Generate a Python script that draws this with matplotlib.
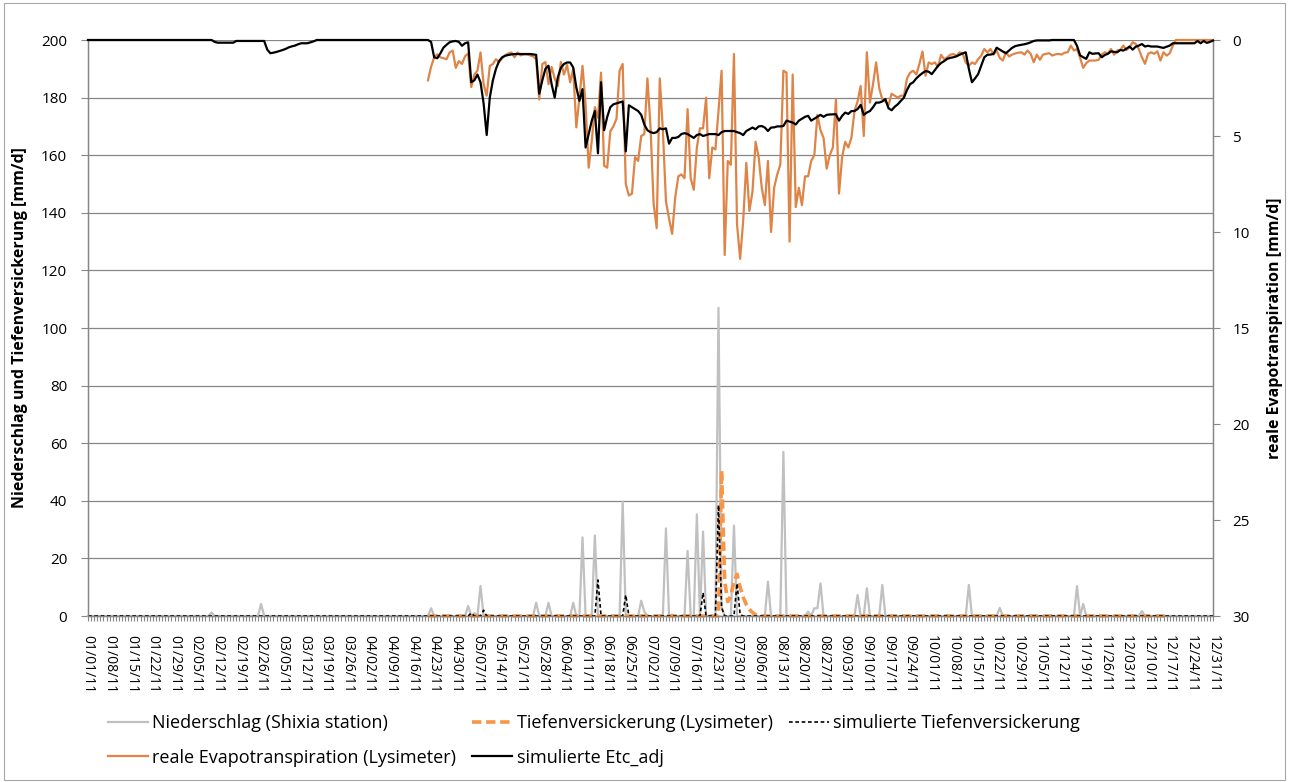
import matplotlib
matplotlib.use("Agg")
import matplotlib.pyplot as plt
import matplotlib.dates as mdates
from matplotlib.patches import Rectangle
import numpy as np
import pandas as pd

plt.rcParams['font.family'] = ['Open Sans', 'DejaVu Sans']

# ---- data ----
days = pd.date_range("2011-01-01", "2011-12-31", freq="D")

# precipitation Shixia station [mm/d], every other day dry
rain_dates = ["2011-02-10", "2011-02-26", "2011-04-22", "2011-05-04", "2011-05-06",
              "2011-05-08", "2011-05-26", "2011-05-30", "2011-06-07", "2011-06-10",
              "2011-06-14", "2011-06-23", "2011-06-29", "2011-06-30", "2011-07-07",
              "2011-07-09", "2011-07-14", "2011-07-17", "2011-07-19", "2011-07-24",
              "2011-07-25", "2011-07-29", "2011-08-09", "2011-08-14", "2011-08-22",
              "2011-08-24", "2011-08-25", "2011-08-26", "2011-09-07", "2011-09-10",
              "2011-09-15", "2011-10-13", "2011-10-23", "2011-11-17", "2011-11-19",
              "2011-12-08"]
rain_mm = [1.2, 4.2, 2.7, 3.5, 1.0,
           10.4, 4.6, 4.6, 4.6, 27.3,
           28.0, 39.7, 5.3, 1.5, 30.4,
           0.5, 22.6, 35.3, 29.3, 107.0,
           3.0, 31.4, 11.9, 57.0, 1.5,
           2.7, 2.7, 11.3, 7.3, 9.6,
           10.8, 10.8, 2.8, 10.4, 4.2,
           1.7]

# deep percolation measured by lysimeter [mm/d]
lys_perc_period = ("2011-04-21", "2011-12-17")
lys_perc_dates = ["2011-07-25", "2011-07-26", "2011-07-27", "2011-07-28", "2011-07-29",
                  "2011-07-30", "2011-07-31", "2011-08-01", "2011-08-02", "2011-08-03",
                  "2011-08-04", "2011-08-05"]
lys_perc_mm = [50.5, 12.0, 5.0, 7.0, 12.0, 14.5, 10.0, 6.5, 4.0, 2.3, 1.2, 0.5]

# simulated deep percolation [mm/d]
sim_perc_dates = ["2011-05-05", "2011-05-09", "2011-06-15", "2011-06-24", "2011-07-19",
                  "2011-07-24", "2011-07-25", "2011-07-30", "2011-07-31"]
sim_perc_mm = [1.0, 2.0, 12.5, 7.3, 8.1, 38.5, 3.0, 11.3, 0.5]

# real evapotranspiration from lysimeter [mm/d], daily from 2011-04-21
et_lys_start = "2011-04-21"
et_lys = [2.1, 1.4, 0.9, 0.75, 0.9, 0.95, 1.0, 0.65, 0.55, 1.45,
          1.1, 1.25, 0.85, 0.7, 2.45, 1.8, 1.6, 0.65, 2.3, 2.9,
          1.35, 1.25, 1.0, 1.15, 0.95, 0.8, 0.7, 0.65, 0.9, 0.65,
          0.8, 0.75, 0.75, 0.8, 0.85, 1.0, 3.1, 1.25, 1.15, 2.3,
          1.4, 2.0, 2.4, 1.15, 1.8, 1.3, 2.2, 1.5, 4.55, 3.0,
          1.35, 3.35, 6.65, 5.25, 3.5, 4.05, 1.7, 6.55, 6.65, 4.75,
          4.5, 4.1, 1.6, 1.25, 7.5, 8.1, 8.0, 6.1, 6.3, 5.0,
          4.9, 2.0, 4.5, 8.5, 9.8, 2.0, 4.7, 8.4, 9.3, 10.1,
          8.2, 7.1, 7.0, 7.2, 3.6, 7.2, 7.8, 5.6, 4.6, 4.6,
          3.0, 7.2, 5.6, 5.7, 3.7, 1.6, 11.2, 6.3, 6.5, 0.73,
          9.6, 11.4, 9.4, 6.4, 8.9, 7.9, 5.3, 6.1, 7.7, 8.6,
          6.3, 10.0, 7.7, 7.0, 6.5, 1.6, 1.7, 10.5, 1.8, 8.7,
          7.7, 8.6, 7.1, 7.1, 6.3, 6.0, 3.9, 4.7, 5.1, 6.7,
          6.0, 5.6, 3.1, 8.0, 6.1, 5.3, 5.6, 5.1, 3.7, 3.2,
          2.4, 5.0, 0.64, 3.26, 2.3, 1.17, 2.5, 3.1, 3.2, 3.4,
          2.8, 2.9, 3.0, 2.9, 2.9, 2.0, 1.7, 1.6, 1.8, 1.25,
          0.6, 1.86, 1.17, 1.25, 1.17, 1.4, 0.77, 1.0, 0.9, 0.77,
          0.73, 0.82, 0.64, 0.7, 1.17, 1.34, 1.17, 1.25, 1.0, 0.82,
          0.47, 0.64, 0.47, 0.76, 0.55, 0.93, 1.07, 0.64, 0.86, 0.76,
          0.7, 0.66, 0.64, 0.76, 0.55, 0.72, 1.16, 0.76, 1.03, 0.76,
          0.72, 0.69, 0.81, 0.75, 0.72, 0.76, 0.66, 0.64, 0.29, 0.55,
          0.47, 0.93, 1.45, 1.2, 1.07, 1.07, 1.07, 1.03, 0.76, 0.64,
          0.69, 0.47, 0.76, 0.55, 0.52, 0.29, 0.52, 0.38, 0.12, 0.2,
          0.47, 0.9, 1.24, 0.72, 0.64, 0.72, 0.59, 1.07, 0.64, 0.81,
          0.69, 0.29, 0.0, 0.0, 0.0, 0.0, 0.0, 0.0, 0.0, 0.0,
          0.0, 0.0, 0.0, 0.0, 0.0]

# simulated Etc_adj [mm/d]; zero on the days not listed
etc_winter_start = "2011-02-11"
etc_winter = [0.1, 0.14, 0.14, 0.14, 0.14, 0.14, 0.14, 0.05, 0.05, 0.05,
              0.05, 0.05, 0.05, 0.05, 0.05, 0.05, 0.05, 0.5, 0.69, 0.66,
              0.62, 0.57, 0.52, 0.46, 0.38, 0.33, 0.29, 0.22, 0.17, 0.17,
              0.17, 0.12, 0.07]
etc_season_start = "2011-04-21"
etc_season = [0.0, 0.1, 0.9, 0.95, 0.7, 0.4, 0.25, 0.12, 0.07, 0.05,
              0.1, 0.3, 0.17, 0.12, 2.2, 2.1, 1.8, 2.2, 3.3, 4.95,
              3.0, 2.1, 1.5, 1.1, 0.9, 0.82, 0.78, 0.75, 0.73, 0.73,
              0.73, 0.73, 0.73, 0.73, 0.75, 0.77, 2.8, 2.1, 1.5, 1.34,
              2.3, 3.0, 1.95, 1.45, 1.25, 1.17, 1.17, 1.43, 2.47, 3.17,
              2.56, 5.6, 4.9, 4.2, 3.7, 5.9, 2.2, 4.7, 4.0, 3.5,
              3.35, 3.3, 3.25, 3.2, 5.8, 3.4, 3.5, 3.6, 3.7, 3.9,
              4.4, 4.7, 4.8, 4.85, 4.8, 4.6, 4.65, 4.6, 5.4, 5.1,
              5.1, 5.05, 4.9, 4.85, 4.9, 5.0, 5.1, 4.95, 4.9, 5.0,
              4.95, 4.9, 4.9, 4.9, 4.95, 4.8, 4.74, 4.74, 4.74, 4.74,
              4.8, 4.85, 4.95, 4.74, 4.65, 4.56, 4.65, 4.5, 4.48, 4.56,
              4.74, 4.56, 4.55, 4.5, 4.5, 4.48, 4.2, 4.25, 4.3, 4.4,
              4.2, 4.1, 4.0, 3.95, 4.2, 4.1, 4.0, 3.9, 4.0, 3.9,
              3.88, 3.87, 3.87, 4.2, 3.95, 3.78, 3.85, 3.7, 3.7, 3.6,
              3.38, 3.9, 3.78, 3.7, 3.5, 3.26, 3.26, 3.2, 3.08, 3.55,
              3.66, 3.48, 3.35, 3.17, 3.0, 2.6, 2.3, 2.2, 2.0, 1.85,
              1.72, 1.62, 1.65, 1.78, 1.57, 1.35, 1.2, 1.1, 0.98, 0.93,
              0.9, 0.85, 0.77, 0.7, 0.64, 1.5, 2.2, 2.0, 1.78, 1.34,
              0.9, 0.77, 0.76, 0.72, 0.4, 0.5, 0.6, 0.69, 0.55, 0.41,
              0.32, 0.28, 0.25, 0.22, 0.18, 0.12, 0.05, 0.02, 0.02, 0.02,
              0.02, 0.02, 0.0, 0.0, 0.0, 0.0, 0.0, 0.0, 0.0, 0.0,
              0.3, 0.8, 0.9, 0.98, 0.64, 0.72, 0.7, 0.69, 0.9, 0.78,
              0.72, 0.59, 0.62, 0.64, 0.52, 0.55, 0.45, 0.34, 0.5, 0.35,
              0.29, 0.21, 0.34, 0.3, 0.34, 0.34, 0.34, 0.38, 0.41, 0.35,
              0.29, 0.17, 0.17, 0.17, 0.17, 0.17, 0.17, 0.17, 0.17, 0.05,
              0.17, 0.05, 0.15, 0.1, 0.03]

labels = ["Niederschlag (Shixia station)", "Tiefenversickerung (Lysimeter)",
          "simulierte Tiefenversickerung", "reale Evapotranspiration (Lysimeter)",
          "simulierte Etc_adj"]

# ---- build daily series ----
rain = pd.Series(0.0, index=days)
rain[pd.to_datetime(rain_dates)] = rain_mm

lys_perc = pd.Series(np.nan, index=days)
lys_perc[lys_perc_period[0]:lys_perc_period[1]] = 0.0
lys_perc[pd.to_datetime(lys_perc_dates)] = lys_perc_mm

sim_perc = pd.Series(0.0, index=days)
sim_perc[pd.to_datetime(sim_perc_dates)] = sim_perc_mm

et_real = pd.Series(np.nan, index=days)
et_real[pd.date_range(et_lys_start, periods=len(et_lys))] = et_lys

etc = pd.Series(0.0, index=days)
etc[pd.date_range(etc_winter_start, periods=len(etc_winter))] = etc_winter
etc[pd.date_range(etc_season_start, periods=len(etc_season))] = etc_season

# ---- figure ----
W, H = 1290, 782
fig = plt.figure(figsize=(W / 100, H / 100), dpi=100)
L, R, T, B = 88, 1213, 40, 616
ax = fig.add_axes([L / W, 1 - B / H, (R - L) / W, (B - T) / H])
ax2 = ax.twinx()

grey = "#868686"
c_rain = "#C0C0C0"
c_perc = "#F79646"
c_et = "#DE8446"

l1, = ax.plot(days, rain, color=c_rain, lw=1.6, clip_on=False, zorder=2)
l2, = ax.plot(days, lys_perc, color=c_perc, lw=2.6, dashes=(2.6, 1.3), clip_on=False, zorder=3)
l3, = ax.plot(days, sim_perc, color="black", lw=1.2, dashes=(2.2, 1.6), clip_on=False, zorder=4)
l4, = ax2.plot(days, et_real, color=c_et, lw=1.6, clip_on=False, zorder=2)
l5, = ax2.plot(days, etc, color="black", lw=1.6, clip_on=False, zorder=3)

ax.set_xlim(days[0], days[-1])
ax.set_ylim(0, 200)
ax.set_yticks(np.arange(0, 201, 20))
ax2.set_ylim(30, 0)
ax2.set_yticks(np.arange(0, 31, 5))

ax.yaxis.grid(True, color=grey, lw=0.9)
ax.set_axisbelow(True)

ax.set_xticks(days[::7])
ax.set_xticks(days, minor=True)
ax.xaxis.set_major_formatter(mdates.DateFormatter("%m/%d/%y"))
ax.tick_params(axis="x", which="both", direction="out", length=3.5, width=0.8,
               color=grey, labelsize=10, labelrotation=-90, pad=10)
ax.tick_params(axis="y", direction="out", length=5, width=0.8, color=grey,
               labelsize=11, pad=10)
ax2.tick_params(axis="y", direction="out", length=5, width=0.8, color=grey,
                labelsize=11, pad=9)

for a in (ax, ax2):
    a.spines["top"].set_visible(False)
    for s in ("left", "right", "bottom"):
        a.spines[s].set_color(grey)
        a.spines[s].set_linewidth(0.9)

ax.set_ylabel("Niederschlag und Tiefenversickerung [mm/d]", fontsize=11.5, fontweight="bold")
ax.yaxis.set_label_coords((28 - L) / (R - L), 0.5)
ax2.set_ylabel("reale Evapotranspiration [mm/d]", fontsize=11.5, fontweight="bold")
ax2.yaxis.set_label_coords((1267 - L) / (R - L), 0.5)

fig.legend([l1, l4, l2, l5, l3],
           [labels[0], labels[3], labels[1], labels[4], labels[2]],
           ncol=3, loc="upper left", bbox_to_anchor=(108 / W, 1 - 714 / H),
           frameon=False, fontsize=13, handlelength=2.2, handletextpad=0.25,
           columnspacing=0.9, labelspacing=0.92, borderpad=0, borderaxespad=0)

fig.add_artist(Rectangle((4 / W, 2 / H), (1285 - 4) / W, (779 - 2) / H,
                         transform=fig.transFigure, fill=False, ec="#A6A6A6", lw=0.8))

fig.savefig("out.png", dpi=100)
